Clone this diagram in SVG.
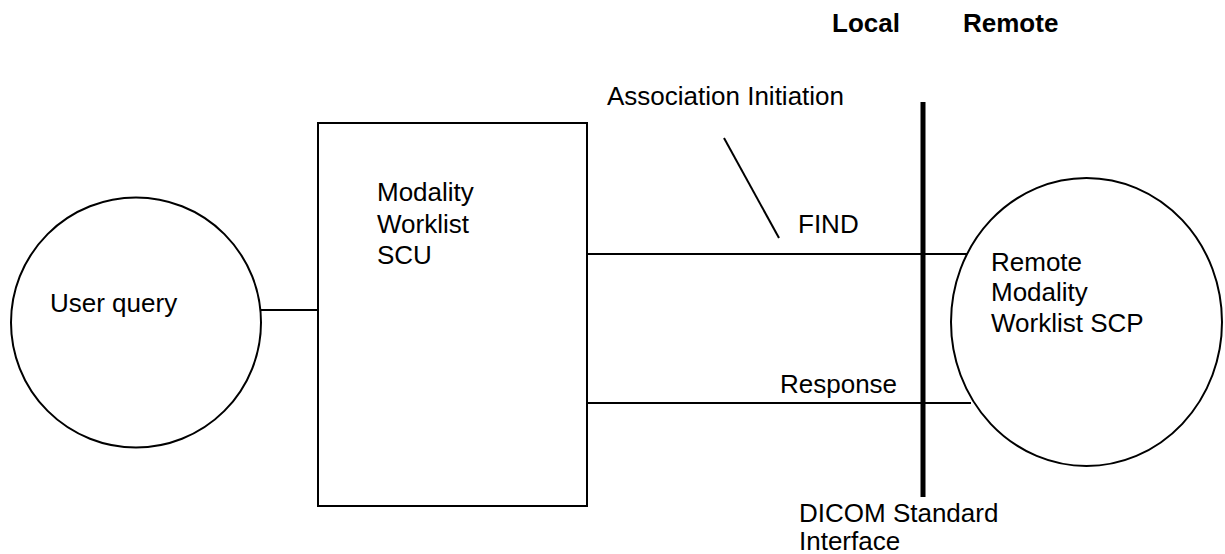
<svg xmlns="http://www.w3.org/2000/svg" width="1225" height="554" viewBox="0 0 1225 554">
  <style>
    .shape { fill: #ffffff; stroke: #000000; stroke-width: 2; }
    .conn { stroke: #000000; stroke-width: 2; fill: none; }
    .bar { stroke: #000000; stroke-width: 5; fill: none; }
    text { font-family: "Liberation Sans", Arial, sans-serif; font-size: 26px; fill: #000000; }
    .bold { font-weight: bold; }
  </style>
  <rect width="1225" height="554" fill="#ffffff"/>
  <g id="headers">
    <text class="bold" x="832" y="32">Local</text>
    <text class="bold" x="963" y="32">Remote</text>
  </g>
  <g id="connectors">
    <line class="conn" x1="261" y1="310" x2="318" y2="310"/>
    <line class="conn" x1="587" y1="254" x2="971" y2="254"/>
    <line class="conn" x1="587" y1="403" x2="971" y2="403"/>
    <line class="conn" x1="724" y1="138" x2="779" y2="238"/>
  </g>
  <g id="user-query">
    <circle class="shape" cx="136" cy="322.5" r="125"/>
    <text x="50" y="312">User query</text>
  </g>
  <g id="scu">
    <rect class="shape" x="318" y="123" width="269" height="383"/>
    <text x="377" y="201">Modality</text>
    <text x="377" y="233">Worklist</text>
    <text x="377" y="264">SCU</text>
  </g>
  <g id="interface">
    <line class="bar" x1="923" y1="102" x2="923" y2="497"/>
    <text x="799" y="522">DICOM Standard</text>
    <text x="799" y="550">Interface</text>
  </g>
  <g id="scp">
    <ellipse class="shape" cx="1086.5" cy="322" rx="135.5" ry="144"/>
    <text x="991" y="271">Remote</text>
    <text x="991" y="301">Modality</text>
    <text x="991" y="332">Worklist SCP</text>
  </g>
  <g id="labels">
    <text x="607" y="105">Association Initiation</text>
    <text x="798" y="233">FIND</text>
    <text x="780" y="393">Response</text>
  </g>
</svg>
